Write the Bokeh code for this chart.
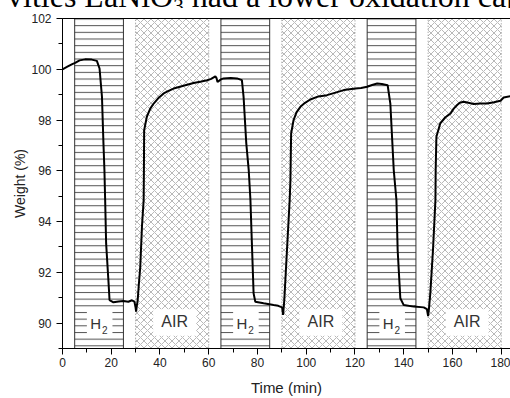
from bokeh.plotting import figure
from bokeh.models import Range1d, LinearAxis, FixedTicker, Div
from bokeh.layouts import column
from bokeh.embed import file_html
from bokeh.resources import INLINE
from bokeh.core.properties import value

# ---- data ----
time_min = [0, 2, 4, 5.2, 7, 9.3, 12, 14.1, 15.2, 16.2, 16.8, 17.2, 17.5, 17.9, 18.9, 19.3,
            20.9, 23, 25.0, 27, 28.5, 29.5, 30.0, 30.2, 30.5, 30.8, 31.3, 31.9, 32.6, 33.3,
            33.4, 33.5, 34.6, 36, 37.4, 39.5, 41.5, 43.5, 45.6, 50, 53.8, 57, 59.3, 61, 62.7,
            63.2, 63.6, 65, 66.1, 69, 71.6, 73.6, 74.3, 75.4, 76.4, 77.1, 77.7, 78.4, 79.1,
            82.5, 86.6, 88.5, 90.1, 90.5, 91.0, 92.1, 93.2, 93.5, 93.8, 94.8, 96, 97.6, 99.5,
            101.7, 105, 108.5, 112, 115.4, 120.2, 122.5, 125, 127, 129.1, 131, 133.4, 134.5,
            135.9, 137.0, 137.5, 138.6, 140.0, 144.1, 148.2, 149.5, 150.0, 150.3, 150.9, 152.0,
            153.0, 153.1, 153.4, 155.0, 157, 159.2, 160.5, 161.9, 163, 164.6, 166.5, 168.7,
            171.5, 174.2, 177, 179.7, 181, 183.8]
weight_pct = [100.0, 100.1, 100.2, 100.25, 100.35, 100.39, 100.38, 100.33, 100.03, 98.9, 97.08,
              96.03, 94.85, 93.14, 91.57, 90.91, 90.82, 90.85, 90.87, 90.84, 90.9, 90.85, 90.6,
              90.45, 90.7, 90.85, 91.5, 92.2, 93.8, 94.85, 96.03, 97.6, 98.13, 98.45, 98.65,
              98.88, 99.05, 99.15, 99.24, 99.36, 99.46, 99.52, 99.57, 99.62, 99.72, 99.65, 99.5,
              99.6, 99.64, 99.66, 99.64, 99.57, 98.9, 97.08, 96.03, 94.85, 93.14, 91.17, 90.84,
              90.78, 90.71, 90.68, 90.62, 90.32, 90.91, 92.88, 94.85, 95.6, 97.47, 98.0, 98.3,
              98.52, 98.68, 98.81, 98.93, 98.98, 99.08, 99.18, 99.24, 99.26, 99.31, 99.38, 99.44,
              99.42, 99.37, 98.65, 96.03, 94.85, 92.88, 90.98, 90.71, 90.65, 90.62, 90.55, 90.28,
              90.52, 91.17, 92.88, 94.85, 96.03, 97.34, 97.87, 98.1, 98.26, 98.45, 98.59, 98.68,
              98.72, 98.68, 98.63, 98.65, 98.65, 98.7, 98.76, 98.89, 98.94]

h2_start = [5, 65, 125]
h2_end = [25, 85, 145]
air_start = [30, 90, 150]
air_end = [60, 120, 180]

x_ticks = [0, 20, 40, 60, 80, 100, 120, 140, 160, 180]
x_minor = [0, 10, 20, 30, 40, 50, 60, 70, 80, 90, 100, 110, 120, 130, 140, 150, 160, 170, 180]
y_ticks = [90, 92, 94, 96, 98, 100, 102]
y_minor = [89, 90, 91, 92, 93, 94, 95, 96, 97, 98, 99, 100, 101, 102]

x_label = "Time (min)"
y_label = "Weight (%)"
h2_text = "H"
h2_sub = "2"
air_text = "AIR"
body_text_a = "vities LaNiO"
body_text_sub = "3"
body_text_b = " had a lower oxidation cap"

SANS = "Liberation Sans"

# cropped line of body text above the chart (only its lower part is visible)
top_div = Div(
    width=510, height=8,
    text=('<div style="margin-top:-19px;margin-left:7px;white-space:nowrap;'
          'position:relative;top:-5px;'
          'font-family:Liberation Serif,Times New Roman,serif;font-size:32px;'
          'line-height:32px;color:#000;">'
          + body_text_a
          + '<span style="font-size:21px;vertical-align:-6px;">' + body_text_sub + '</span>'
          + body_text_b.replace(" ", "&nbsp;", 1) + '</div>'),
    styles={"overflow": "hidden", "margin": "0", "padding": "0"},
)

p = figure(width=510, height=390, x_range=Range1d(0, 183.8), y_range=Range1d(89, 102),
           output_backend="svg", toolbar_location=None,
           min_border_left=62, min_border_right=0, min_border_top=10, min_border_bottom=49)
p.grid.visible = False
p.outline_line_color = None
p.background_fill_color = "white"
p.border_fill_color = "white"

# H2 regions (horizontal line hatch)
p.quad(left=h2_start, right=h2_end, bottom=89, top=102, fill_color="white",
       line_color="#333333", line_width=1,
       hatch_pattern="horizontal_line", hatch_scale=6.67, hatch_color="#555555", hatch_weight=1)
# AIR regions (cross hatch)
p.quad(left=air_start, right=air_end, bottom=89, top=102, fill_color="white",
       line_color="#8a8a8a", line_width=1, line_dash="1 2",
       hatch_pattern="diagonal_cross", hatch_scale=7, hatch_color="#b0b0b0", hatch_weight=0.9)

# label boxes
p.quad(left=[s + 5 for s in h2_start], right=[s + 15.5 for s in h2_start],
       bottom=89.45, top=90.58, fill_color="white", line_color=None)
p.quad(left=[s + 7.2 for s in air_start], right=[s + 24.8 for s in air_start],
       bottom=89.5, top=90.55, fill_color="white", line_color=None)

p.text(x=[s + 8.6 for s in h2_start], y=[89.99] * 3, text=[h2_text] * 3,
       text_font=value(SANS), text_font_size="15px", text_color="#333333",
       text_align="center", text_baseline="middle")
p.text(x=[s + 12.3 for s in h2_start], y=[89.74] * 3, text=[h2_sub] * 3,
       text_font=value(SANS), text_font_size="10px", text_color="#333333",
       text_align="center", text_baseline="middle")
p.text(x=[s + 16 for s in air_start], y=[90.05] * 3, text=[air_text] * 3,
       text_font=value(SANS), text_font_size="16px", text_color="#333333",
       text_align="center", text_baseline="middle")

p.line(time_min, weight_pct, line_color="black", line_width=2)

# axes
for ax in (p.xaxis[0], p.yaxis[0]):
    ax.axis_line_color = "black"
    ax.major_tick_line_color = "black"
    ax.minor_tick_line_color = "black"
    ax.major_tick_in = 0
    ax.minor_tick_in = 0
    ax.major_label_text_font = SANS
    ax.major_label_text_font_size = "12px"
    ax.major_label_text_color = "#222222"
    ax.axis_label_text_font = SANS
    ax.axis_label_text_font_style = "normal"
    ax.axis_label_text_color = "#222222"

p.xaxis.ticker = FixedTicker(ticks=x_ticks, minor_ticks=x_minor)
p.yaxis.ticker = FixedTicker(ticks=y_ticks, minor_ticks=y_minor)
p.xaxis.axis_label = x_label
p.yaxis.axis_label = y_label
p.xaxis.axis_label_text_font_size = "15px"
p.yaxis.axis_label_text_font_size = "14px"
p.xaxis.major_tick_out = 6
p.xaxis.minor_tick_out = 4
p.xaxis.major_label_standoff = 3
p.xaxis.axis_label_standoff = 9
p.yaxis.major_tick_out = 6
p.yaxis.minor_tick_out = 4
p.yaxis.major_label_standoff = 5
p.yaxis.axis_label_standoff = 0

top_ax = LinearAxis(ticker=FixedTicker(ticks=[]), major_tick_out=0, minor_tick_out=0,
                    major_label_text_font_size="0px", major_label_standoff=0,
                    axis_line_color="black")
p.add_layout(top_ax, "above")

layout = column(top_div, p, spacing=0)
open("out.html", "w").write(file_html(layout, INLINE))
